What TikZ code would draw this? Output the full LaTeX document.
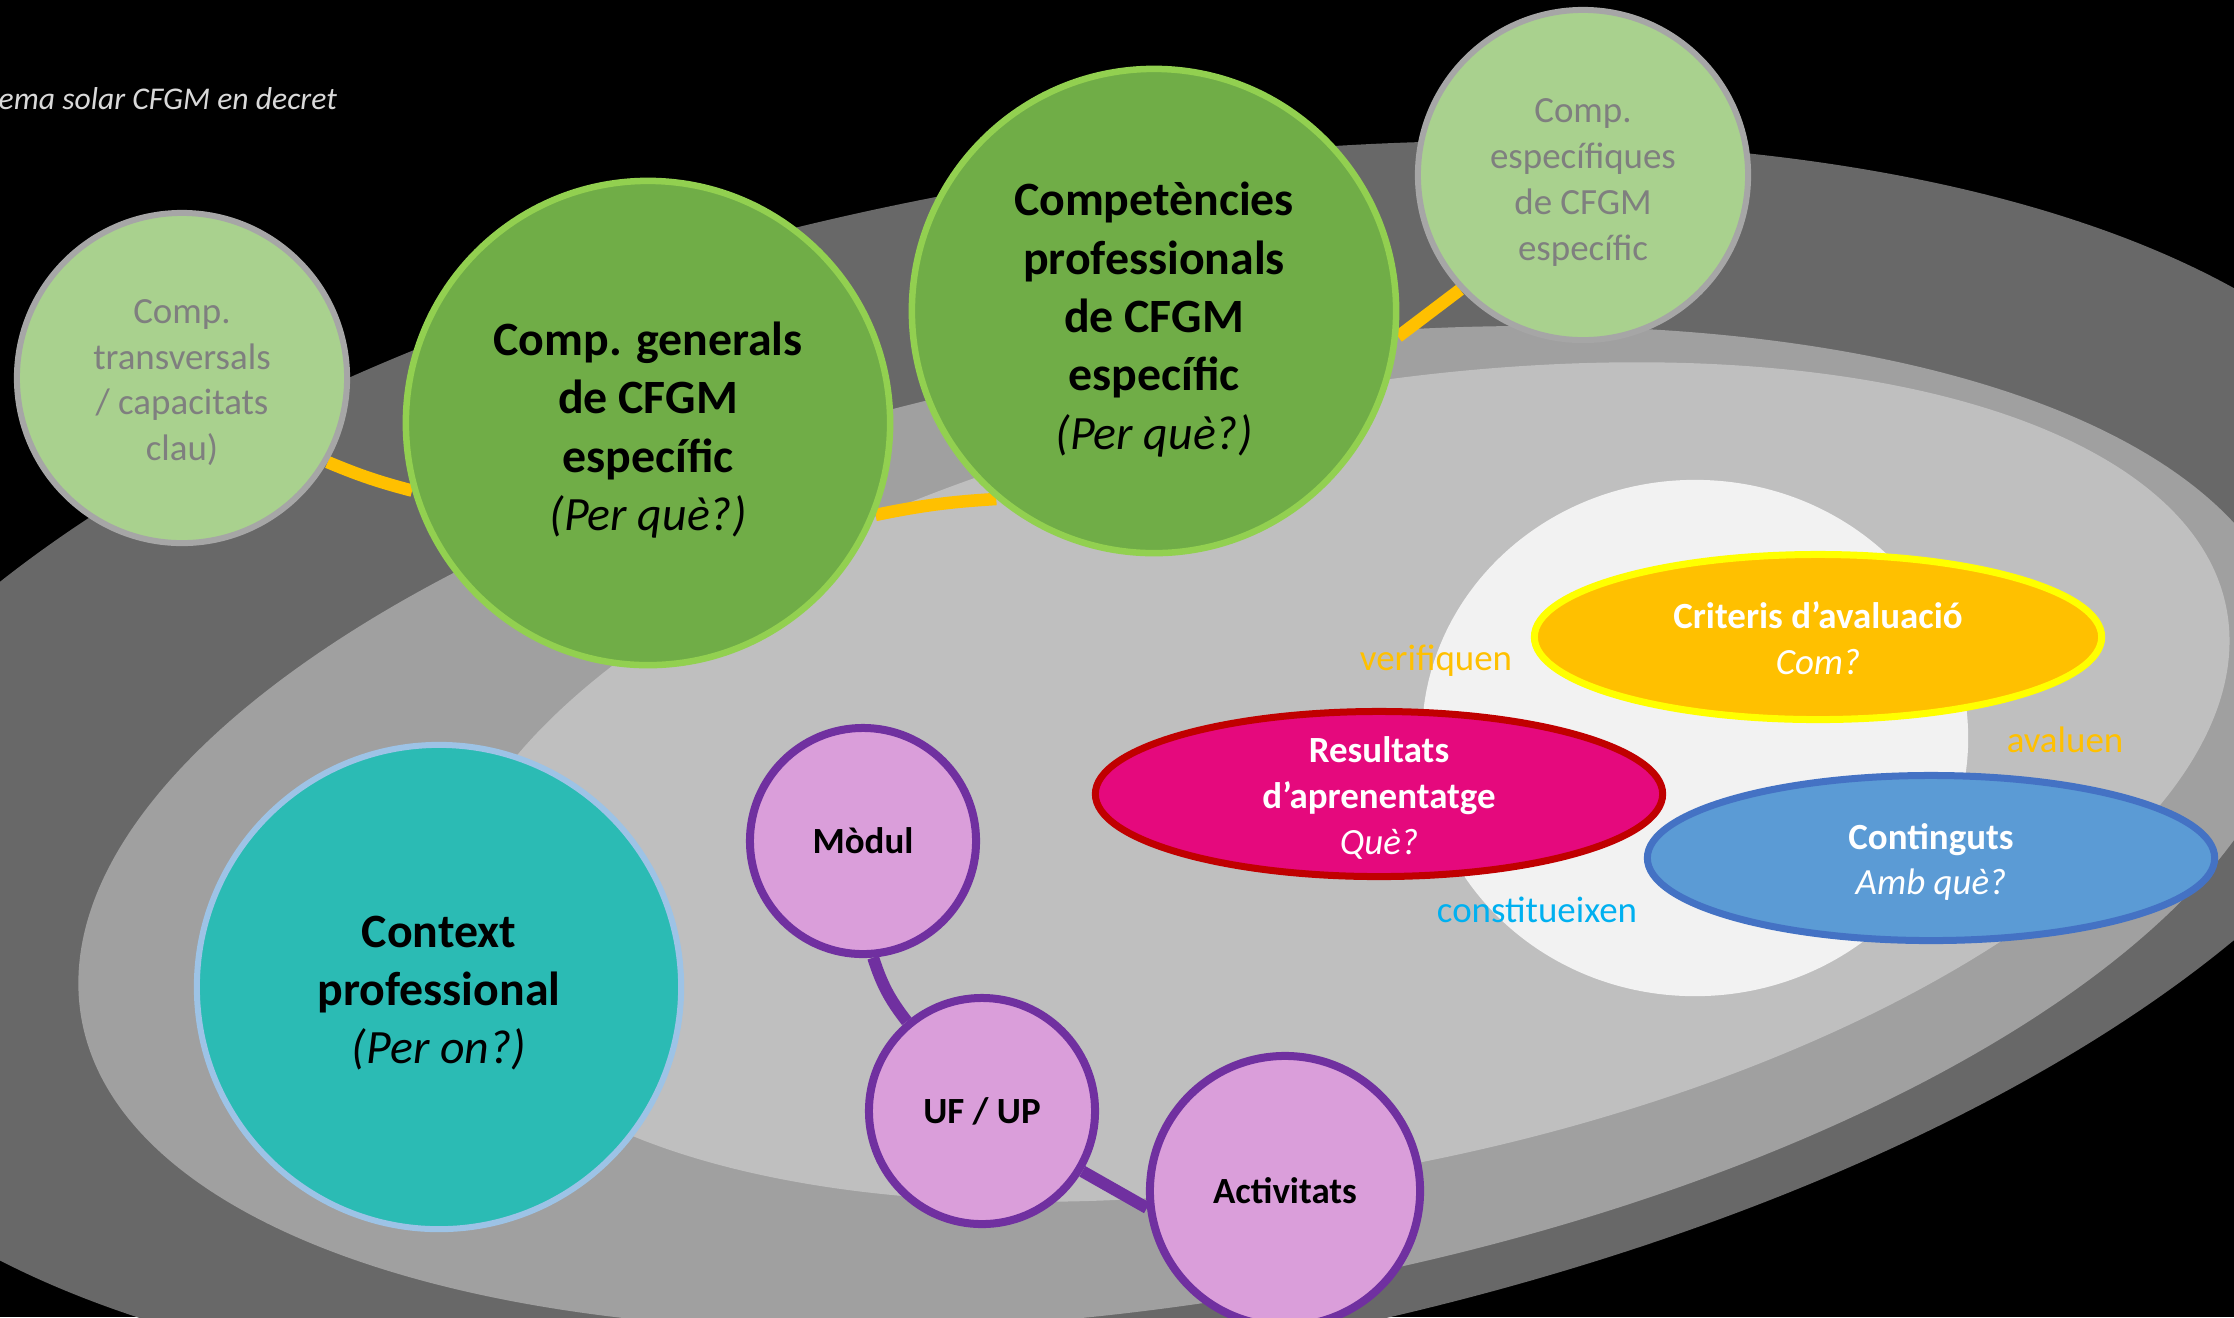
\documentclass[tikz,border=0pt]{standalone}
\usepackage{fontspec}
\setmainfont{Carlito}
\usetikzlibrary{shapes.geometric}
\pgfdeclarelayer{bgl}
\pgfdeclarelayer{links}
\pgfsetlayers{bgl,links,main}
\definecolor{dgray}{HTML}{686868}
\definecolor{mgray}{HTML}{A0A0A0}
\definecolor{lgray}{HTML}{BFBFBF}
\definecolor{wgray}{HTML}{F2F2F2}
\definecolor{dgreen}{HTML}{70AD47}
\definecolor{dgreenb}{HTML}{92D050}
\definecolor{pgreen}{HTML}{A9D18E}
\definecolor{pgreenb}{HTML}{A6A6A6}
\definecolor{ptext}{HTML}{7F7F7F}
\definecolor{ctxfill}{HTML}{2BBBB4}
\definecolor{ctxborder}{HTML}{9DC3E6}
\definecolor{plumfill}{HTML}{DA9EDA}
\definecolor{purp}{HTML}{7030A0}
\definecolor{gold}{HTML}{FFC000}
\definecolor{yel}{HTML}{FFFF00}
\definecolor{magfill}{HTML}{E5097D}
\definecolor{redb}{HTML}{C00000}
\definecolor{bluefill}{HTML}{5B9BD5}
\definecolor{blueb}{HTML}{4472C4}
\definecolor{cyantxt}{HTML}{00B0F0}
\definecolor{titlegray}{HTML}{D9D9D9}
\begin{document}
\begin{tikzpicture}[x=0.01cm,y=-0.01cm,
  bigtxt/.style={font=\fontsize{13.6}{16.6}\selectfont\bfseries, align=center, text=black, inner sep=0pt},
  smalltxt/.style={font=\fontsize{10.5}{13}\selectfont, align=center, inner sep=0pt},
  darkcirc/.style={circle, fill=dgreen, draw=dgreenb, line width=0.065cm, minimum size=4.84cm, inner sep=0pt},
  lightcirc/.style={circle, fill=pgreen, draw=pgreenb, line width=0.06cm, minimum size=3.30cm, inner sep=0pt},
  ctxcirc/.style={circle, fill=ctxfill, draw=ctxborder, line width=0.06cm, minimum size=4.84cm, inner sep=0pt},
  pinkcirc/.style={circle, fill=plumfill, draw=purp, line width=0.08cm, minimum size=2.26cm, inner sep=0pt, font=\fontsize{10.5}{13}\selectfont\bfseries, text=black},
  ovalnode/.style={ellipse, line width=0.07cm, minimum width=5.67cm, minimum height=1.65cm, inner sep=0pt},
  lbl/.style={font=\fontsize{10.5}{13}\selectfont, inner sep=0pt},
  orbit/.style={draw=gold, line width=0.125cm},
  plink/.style={draw=purp, line width=0.12cm}
]
\useasboundingbox (0,0) rectangle (2234,1317);
\begin{pgfonlayer}{bgl}
\begin{scope}
\clip (0,0) rectangle (2234,1317);
\fill[black] (0,0) rectangle (2234,1317);
\begin{scope}[shift={(1107,769)}, yslant=0.1374]
\fill[dgray] (0,0) ellipse [x radius=13.41cm, y radius=6.00cm];
\end{scope}
\begin{scope}[shift={(1187.5,828)}, yslant=0.14]
\fill[mgray] (0,0) ellipse [x radius=11.085cm, y radius=4.77cm];
\end{scope}
\begin{scope}[shift={(1337,782)}, yslant=0.158]
\fill[lgray] (0,0) ellipse [x radius=8.92cm, y radius=3.95cm];
\end{scope}
\fill[wgray] (1695,738) ellipse [x radius=2.73cm, y radius=2.58cm];
\end{scope}
\end{pgfonlayer}

\node[anchor=base west, text=titlegray, font=\fontsize{9}{11}\selectfont\itshape, inner sep=0pt] (title) at (-2,109) {ema solar CFGM en decret};

\node[lightcirc, label={[name=transT, smalltxt, text=ptext, yshift=-0.045cm]center:{Comp.\\transversals\\/ capacitats\\clau)}}] (trans) at (182,378) {};
\node[darkcirc, label={[name=genT, bigtxt, yshift=-0.07cm]center:{Comp. generals\\de CFGM\\específic\\{\mdseries\itshape (Per què?)}}}] (gen) at (648,423) {};
\node[darkcirc, label={[name=compT, bigtxt, yshift=-0.085cm]center:{Competències\\professionals\\de CFGM\\específic\\{\mdseries\itshape (Per què?)}}}] (comp) at (1154,311) {};
\node[lightcirc, label={[name=espT, smalltxt, text=ptext, yshift=-0.075cm]center:{Comp.\\específiques\\de CFGM\\específic}}] (esp) at (1583,175) {};
\node[ctxcirc, label={[name=ctxT, bigtxt, yshift=-0.06cm]center:{Context\\professional\\{\mdseries\itshape (Per on?)}}}] (ctx) at (439,987) {};
\node[pinkcirc] (modul) at (863,841) {Mòdul};
\node[pinkcirc] (uf) at (982,1111) {UF / UP};
\node[pinkcirc, minimum size=2.70cm] (act) at (1285,1191) {Activitats};
\node[ovalnode, fill=gold, draw=yel, label={[name=critT, smalltxt, text=white, yshift=-0.015cm]center:{\textbf{Criteris d’avaluació}\\\textit{Com?}}}] (crit) at (1818,637) {};
\node[ovalnode, fill=magfill, draw=redb, label={[name=resT, smalltxt, text=white, yshift=-0.04cm]center:{\textbf{Resultats}\\\textbf{d’aprenentatge}\\\textit{Què?}}}] (res) at (1379,794) {};
\node[ovalnode, fill=bluefill, draw=blueb, label={[name=contT, smalltxt, text=white, yshift=-0.04cm]center:{\textbf{Continguts}\\\textit{Amb què?}}}] (cont) at (1931,858) {};

\node[lbl, text=gold] (verif) at (1436,661) {verifiquen};
\node[lbl, text=gold] (aval) at (2065,740) {avaluen};
\node[lbl, text=cyantxt] (const) at (1537,910) {constitueixen};

\begin{pgfonlayer}{links}
\draw[orbit] (trans.-30) to[bend right=4] (gen.196);
\draw[orbit] (gen.-22) to[bend left=4] (comp.230);
\draw[orbit] (comp.-6) -- (esp.223);
\draw[plink] (modul.-85) to[bend right=10] (uf.130);
\draw[plink] (uf.-31) -- (act.187);
\end{pgfonlayer}
\end{tikzpicture}
\end{document}
